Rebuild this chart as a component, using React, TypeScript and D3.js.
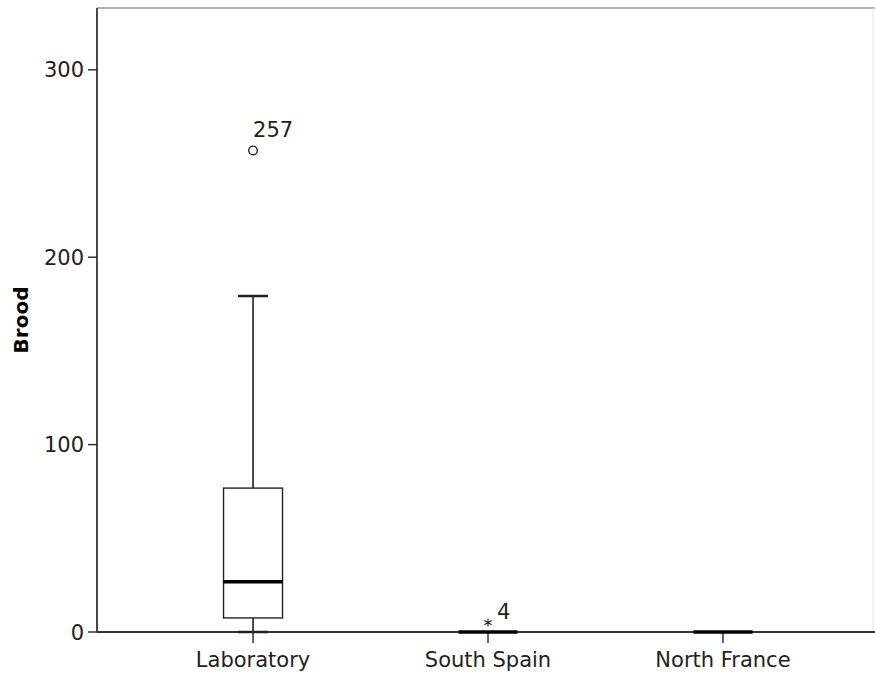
import React from "react";
import * as d3 from "d3";

const categories = ["Laboratory", "South Spain", "North France"];
const whiskerLow = [0, 0, 0];
const q1 = [7.5, 0, 0];
const median = [26.8, 0, 0];
const q3 = [76.8, 0, 0];
const whiskerHigh = [179.3, 0, 0];
const outlierCats = ["Laboratory"];
const outlierValues = [257];
const outlierLabels = ["257"];
const extremeCats = ["South Spain"];
const extremeValues = [5];
const extremeLabels = ["4"];
const yTicks = [0, 100, 200, 300];
const yLabel = "Brood";

const W = 875;
const H = 679;
const FONT = "'DejaVu Sans', Verdana, sans-serif";

export default function App() {
  const y = d3.scaleLinear().domain([0, 333]).range([632, 8]);
  const x = d3.scalePoint<string>().domain(categories).range([97, 879]).padding(0.664);
  const boxW = 59;
  const capW = 30;
  const ink = "#222";
  const starPath = d3.symbol().type(d3.symbolAsterisk).size(50)() as string;

  return (
    <div style={{ position: "fixed", left: 0, top: 0 }}>
      <svg width={W} height={H} style={{ display: "block", background: "#fff" }}>
        {/* frame */}
        <line x1={97} x2={875} y1={8} y2={8} stroke="#999" strokeWidth={1.5} />
        <line x1={873} x2={873} y1={8} y2={632} stroke="#e4e4e4" strokeWidth={1} />

        {/* axes */}
        <line x1={97} x2={875} y1={632} y2={632} stroke="#333" strokeWidth={1.8} />
        <line x1={97} x2={97} y1={8} y2={632} stroke="#333" strokeWidth={1.8} />
        {yTicks.map((t) => (
          <g key={t}>
            <line x1={88} x2={97} y1={y(t)} y2={y(t)} stroke="#333" strokeWidth={1.5} />
            <text x={84} y={y(t)} dy="0.36em" textAnchor="end" fontFamily={FONT} fontSize={21} fill={ink}>
              {t}
            </text>
          </g>
        ))}
        {categories.map((c) => (
          <g key={c}>
            <line x1={x(c)!} x2={x(c)!} y1={632} y2={643} stroke="#333" strokeWidth={1.5} />
            <text x={x(c)!} y={667} textAnchor="middle" fontFamily={FONT} fontSize={21} fill={ink}>
              {c}
            </text>
          </g>
        ))}
        <text
          transform={`translate(28,${320}) rotate(-90)`}
          textAnchor="middle"
          fontFamily={FONT}
          fontSize={20}
          fontWeight="bold"
          fill="#000"
        >
          {yLabel}
        </text>

        {/* boxes */}
        {categories.map((c, i) => {
          const cx = x(c)!;
          const isFlat = q3[i] - q1[i] === 0;
          return (
            <g key={c}>
              {!isFlat && (
                <>
                  <line x1={cx} x2={cx} y1={y(q3[i])} y2={y(whiskerHigh[i])} stroke={ink} strokeWidth={1.6} />
                  <line x1={cx} x2={cx} y1={y(q1[i])} y2={y(whiskerLow[i])} stroke={ink} strokeWidth={1.6} />
                  <line x1={cx - capW / 2} x2={cx + capW / 2} y1={y(whiskerHigh[i])} y2={y(whiskerHigh[i])} stroke={ink} strokeWidth={2.5} />
                  <line x1={cx - capW / 2} x2={cx + capW / 2} y1={y(whiskerLow[i])} y2={y(whiskerLow[i])} stroke={ink} strokeWidth={2.5} />
                  <rect x={cx - boxW / 2} y={y(q3[i])} width={boxW} height={y(q1[i]) - y(q3[i])} fill="#fff" stroke={ink} strokeWidth={1.4} />
                </>
              )}
              <line x1={cx - boxW / 2} x2={cx + boxW / 2} y1={y(median[i])} y2={y(median[i])} stroke="#000" strokeWidth={3.4} />
            </g>
          );
        })}

        {/* outliers */}
        {outlierCats.map((c, i) => {
          const cx = x(c)!;
          const cy = y(outlierValues[i]);
          return (
            <g key={"o" + i}>
              <circle cx={cx} cy={cy} r={4.3} fill="none" stroke={ink} strokeWidth={1.4} />
              <text x={cx} y={cy - 13} fontFamily={FONT} fontSize={21} fill={ink}>
                {outlierLabels[i]}
              </text>
            </g>
          );
        })}
        {extremeCats.map((c, i) => {
          const cx = x(c)!;
          const cy = y(extremeValues[i]);
          return (
            <g key={"e" + i}>
              <path d={starPath} transform={`translate(${cx},${cy})`} stroke={ink} strokeWidth={1.1} fill={ink} />
              <text x={cx + 9} y={cy - 4} fontFamily={FONT} fontSize={21} fill={ink}>
                {extremeLabels[i]}
              </text>
            </g>
          );
        })}
      </svg>
    </div>
  );
}
